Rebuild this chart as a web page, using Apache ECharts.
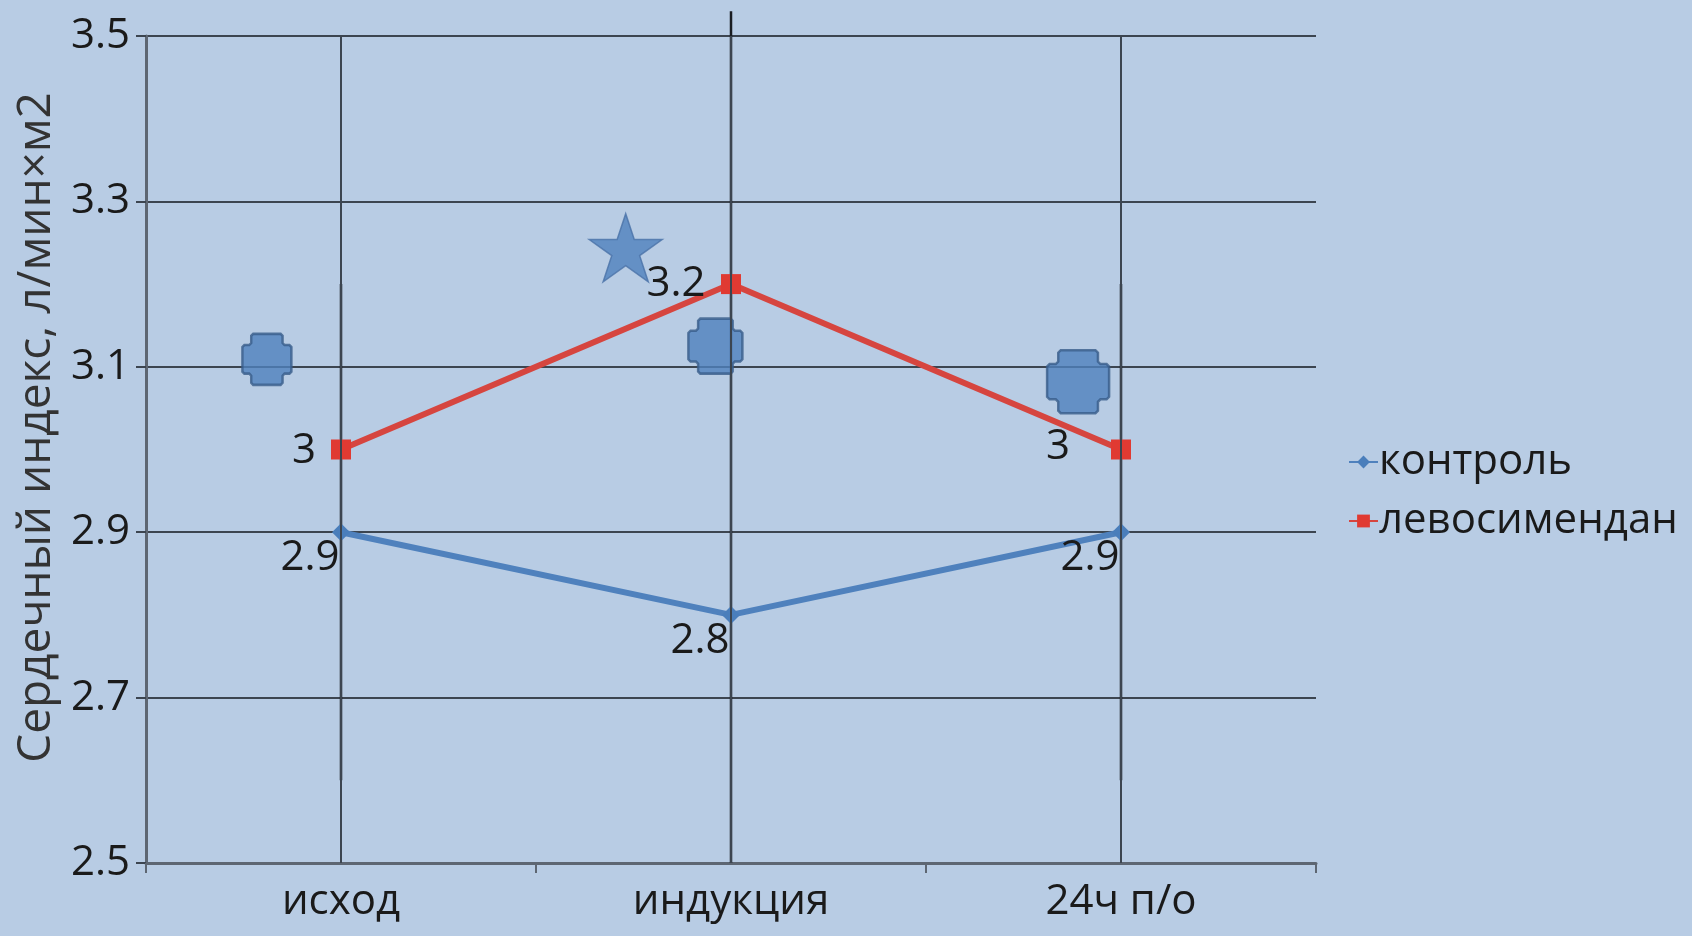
<!DOCTYPE html>
<html>
<head>
<meta charset="utf-8">
<script src="https://cdn.jsdelivr.net/npm/echarts@6/dist/echarts.min.js"></script>
<style>
  html, body { margin: 0; padding: 0; background: #b8cce4; }
  #chart { width: 1692px; height: 936px; }
</style>
</head>
<body>
<div id="chart"></div>
<script>
const categories = ['исход', 'индукция', '24ч п/о']
const control = [2.9, 2.8, 2.9]
const levosimendan = [3.0, 3.2, 3.0]
// error bar ends (control)
const errLow = [2.6, 2.5, 2.6]
const errHigh = [3.2, 3.53, 3.2]
// significance marks drawn on the chart (x in category units, 0..3)
const crossX = [0.31, 1.46, 2.39]
const crossY = [3.109, 3.125, 3.082]
const starX = [1.23]
const starY = [3.244]

const FONT = 'Open Sans'
const crossSizes = [[49, 51], [54, 55], [62, 63]]
const redOffsets = [[-37, 2], [-55, 0], [-63, -2]]
const crossPath = 'path://M22,0H78L82,4V18L86,22H96L100,26V74L96,78H86L82,82V96L78,100H22L18,96V82L14,78H4L0,74V26L4,22H14L18,18V4Z'

const chart = echarts.init(document.getElementById('chart'))
const option = {
  backgroundColor: '#b8cce4',
  animation: false,
  textStyle: { fontFamily: FONT },
  grid: { left: 146, right: 376, top: 36, bottom: 73 },
  legend: {
    orient: 'vertical',
    left: 1343,
    top: 436,
    itemWidth: 29,
    itemHeight: 16,
    itemGap: 17,
    data: ['контроль', 'левосимендан'],
    textStyle: { fontFamily: FONT, fontSize: 42, color: '#1a1a1a', lineHeight: 40, padding: [0, 0, 0, -4] }
  },
  xAxis: [
    {
      type: 'category',
      data: categories,
      boundaryGap: true,
      axisLine: { lineStyle: { color: '#5d6672', width: 3 } },
      axisTick: { show: true, length: 10, lineStyle: { color: '#5d6672', width: 2 } },
      axisLabel: { fontFamily: FONT, fontSize: 42, color: '#1a1a1a', margin: 18 },
      splitLine: { show: false }
    },
    { type: 'value', min: 0, max: 3, show: false }
  ],
  yAxis: {
    type: 'value',
    min: 2.5,
    max: 3.5,
    interval: 0.2,
    name: 'Сердечный индекс, л/мин×м2',
    nameLocation: 'middle',
    nameGap: 82,
    nameTextStyle: { fontFamily: FONT, fontSize: 46, color: '#333333', padding: [0, 0, 0, 44] },
    axisLine: { show: true, lineStyle: { color: '#5d6672', width: 3 } },
    axisTick: { show: true, length: 10, lineStyle: { color: '#3c4550', width: 2 } },
    axisLabel: {
      fontFamily: FONT, fontSize: 42, color: '#1a1a1a', margin: 16,
      formatter: v => v.toFixed(1)
    },
    splitLine: { lineStyle: { color: '#3c4550', width: 2 } }
  },
  series: [
    {
      name: 'errors',
      type: 'custom',
      z: 1,
      clip: false,
      data: categories.map((c, i) => [i, errLow[i], errHigh[i]]),
      renderItem: function (params, api) {
        const lo = api.coord([api.value(0), api.value(1)])
        const hi = api.coord([api.value(0), api.value(2)])
        return {
          type: 'line',
          shape: { x1: lo[0], y1: lo[1], x2: hi[0], y2: hi[1] },
          style: { stroke: '#1a1d22', lineWidth: 2.5 }
        }
      },
      markLine: {
        silent: true,
        symbol: 'none',
        label: { show: false },
        lineStyle: { color: '#3c4550', width: 2, type: 'solid' },
        data: categories.map(c => ({ xAxis: c }))
      }
    },
    {
      name: 'контроль',
      type: 'line',
      z: 3,
      data: control,
      symbol: 'diamond',
      symbolSize: 18,
      itemStyle: { color: '#4a7ebb' },
      lineStyle: { color: '#4f81bd', width: 6 },
      label: {
        show: true,
        position: 'inside',
        offset: [-31, 26],
        fontFamily: FONT,
        fontSize: 42,
        color: '#1a1a1a'
      }
    },
    {
      name: 'левосимендан',
      type: 'line',
      z: 3,
      data: levosimendan.map((v, i) => ({ value: v, label: { offset: redOffsets[i] } })),
      symbol: 'rect',
      symbolSize: 20,
      itemStyle: { color: '#e03a32' },
      lineStyle: { color: '#d6453f', width: 6 },
      label: {
        show: true,
        position: 'inside',
        fontFamily: FONT,
        fontSize: 42,
        color: '#1a1a1a'
      }
    },
    {
      name: 'cross',
      type: 'scatter',
      xAxisIndex: 1,
      z: 4,
      data: crossX.map((x, i) => ({ value: [x, crossY[i]], symbolSize: crossSizes[i] })),
      symbol: crossPath,
      itemStyle: { color: '#4f81bd', borderColor: '#385d8a', borderWidth: 2.5 }
    },
    {
      name: 'star',
      type: 'scatter',
      xAxisIndex: 1,
      z: 4,
      data: starX.map((x, i) => [x, starY[i]]),
      symbol: 'path://M50,0L61.8,36.2H100L69.1,58.6L80.9,95.1L50,72.6L19.1,95.1L30.9,58.6L0,36.2H38.2Z',
      symbolSize: [73, 68],
      itemStyle: { color: '#4f81bd', borderColor: '#4a72a8', borderWidth: 1.5 }
    }
  ]
}
chart.setOption(option)
</script>
</body>
</html>
